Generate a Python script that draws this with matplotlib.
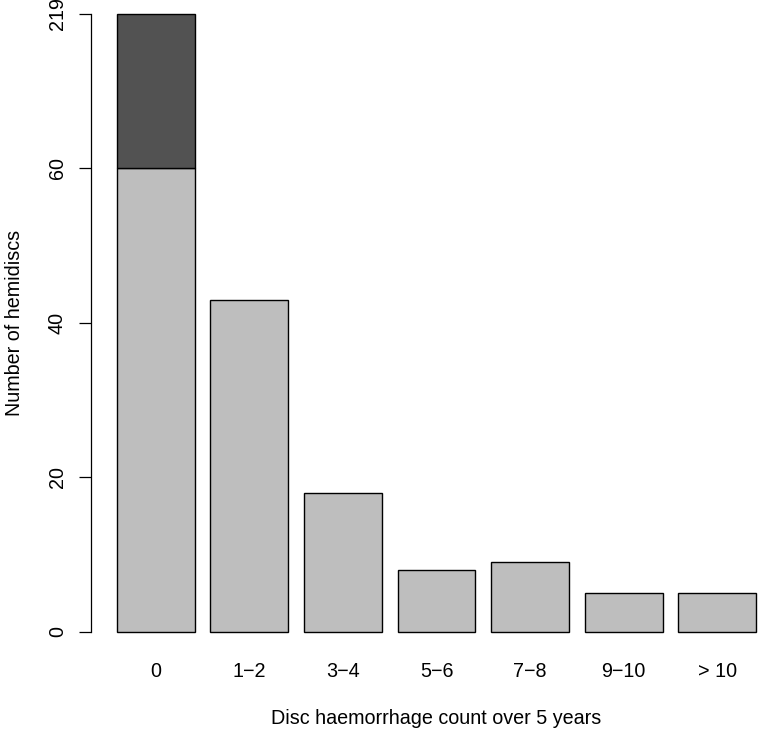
import matplotlib.pyplot as plt

plt.rcParams['font.family'] = ['Liberation Sans', 'DejaVu Sans']

categories = ['0', '1\u22122', '3\u22124', '5\u22126', '7\u22128', '9\u221210', '> 10']
counts = [219, 43, 18, 8, 9, 5, 5]

# axis is broken above 60; the top tick stands for the real maximum
break_at = 60
break_top = 80
yticks = [0, 20, 40, 60, 80]
ytick_labels = ['0', '20', '40', '60', '219']

light = '#bebebe'
dark = '#525252'

fig = plt.figure(figsize=(7.59, 7.29), dpi=100)
ax = fig.add_axes([0.1204, 0.0992, 0.9094, 0.9155])

x = [0.7 + 1.2 * i for i in range(len(counts))]
shown = [min(c, break_at) if c > break_top else c for c in counts]
ax.bar(x, shown, width=1, color=light, edgecolor='black', linewidth=1)
for xi, c in zip(x, counts):
    if c > break_top:
        ax.bar(xi, break_top - break_at, bottom=break_at, width=1,
               color=dark, edgecolor='black', linewidth=1)

ax.set_xlim(0.2 - 0.328, 8.4 + 0.328)
ax.set_ylim(-3.2, 83.2)

for s in ['top', 'right', 'bottom']:
    ax.spines[s].set_visible(False)
ax.spines['left'].set_bounds(0, break_top)
ax.spines['left'].set_linewidth(0.9)

ax.set_yticks(yticks)
ax.set_yticklabels(ytick_labels, rotation=90, va='center')
ax.tick_params(axis='y', length=8.6, width=0.9, pad=9, labelsize=14.2)
ax.set_xticks(x)
ax.set_xticklabels(categories)
ax.tick_params(axis='x', length=0, pad=4, labelsize=14.2)

ax.set_xlabel('Disc haemorrhage count over 5 years', fontsize=14.2, labelpad=20)
ax.set_ylabel('Number of hemidiscs', fontsize=14.2, labelpad=17)

plt.savefig('out.png')
